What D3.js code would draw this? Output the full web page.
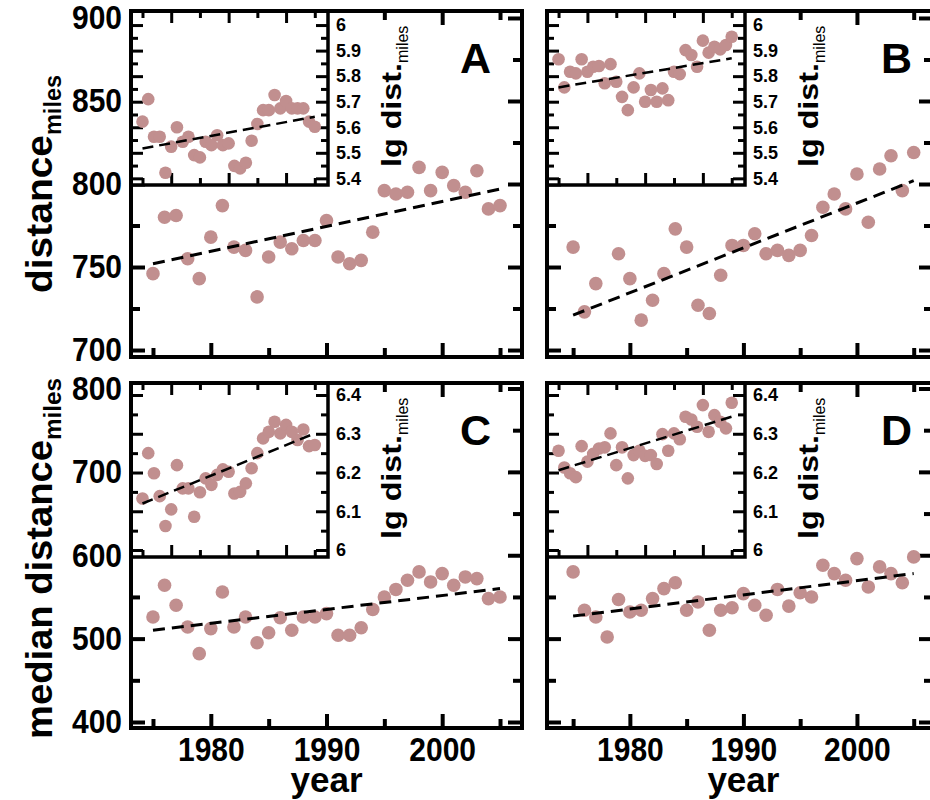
<!DOCTYPE html>
<html><head><meta charset="utf-8">
<script src="https://cdn.jsdelivr.net/npm/d3@7"></script>
<style>
body{margin:0;background:#fff}
svg{display:block}
text{font-family:"Liberation Sans",Arial,Helvetica,sans-serif;font-weight:bold;fill:#000}
</style>
</head><body>
<svg id="chart" width="930" height="800"></svg>
<script>
// ---------------- DATA ----------------
const years = [1975,1976,1977,1978,1979,1980,1981,1982,1983,1984,1985,1986,1987,1988,1989,1990,
               1991,1992,1993,1994,1995,1996,1997,1998,1999,2000,2001,2002,2003,2004,2005];

// main panels: distance (miles)
const distA = [746,780,781,755,743,768,787,762,760,732,756,765,761,766,766,778,
               756,752,754,771,796,794,795,810,796,807,799,795,808,785,787];
const distB = [762,723,740,null,758,743,718,730,746,773,762,727,722,745,763,763,
               770,758,760,757,760,769,786,794,785,806,777,809,817,796,819];
const distC = [526,564,540,514,482,512,556,514,526,495,507,525,510,526,526,530,
               504,504,513,535,550,559,570,580,568,578,564,574,572,548,550];
const distD = [580,534,526,502,547,532,534,548,560,567,534,544,510,534,537,554,
               540,528,559,539,555,550,588,578,570,596,562,586,578,567,598];

// insets: lg dist. (miles)
const lgA = [5.622,5.710,5.563,5.563,5.422,5.524,5.600,5.543,5.563,5.491,5.482,5.543,5.530,5.569,5.530,5.537,
             5.449,5.439,5.461,5.547,5.613,5.667,5.667,5.726,5.674,5.703,5.674,5.674,5.674,5.622,5.602];
const lgB = [5.866,5.756,5.817,5.811,5.866,5.817,5.837,5.840,5.772,5.847,5.778,5.719,5.667,5.756,5.811,5.700,
             5.746,5.700,5.752,5.706,5.817,5.808,5.902,5.883,5.837,5.939,5.892,5.915,5.905,5.922,5.954];
const lgC = [6.133,6.250,6.198,6.139,6.062,6.105,6.219,6.159,6.159,6.086,6.149,6.185,6.168,6.194,6.208,6.202,
             6.146,6.150,6.172,6.211,6.250,6.288,6.305,6.331,6.301,6.323,6.305,6.284,6.311,6.268,6.271];
const lgD = [6.256,6.213,6.198,6.188,6.268,6.228,6.248,6.262,6.265,6.301,6.219,6.265,6.185,6.245,6.256,6.243,
             6.245,6.222,6.299,6.256,6.301,6.286,6.344,6.337,6.318,6.374,6.305,6.348,6.331,6.314,6.380];

// dashed linear fits, endpoints: [year, value]
const fitA = [[1975,752],[2005,797]];
const fitB = [[1975,721],[2005,802]];
const fitC = [[1975,510],[2005,560]];
const fitD = [[1975,527],[2005,578]];
const insetFitA = [[1975,5.517],[2005,5.641]];
const insetFitB = [[1975,5.756],[2005,5.870]];
const insetFitC = [[1975,6.120],[2005,6.301]];
const insetFitD = [[1975,6.206],[2005,6.344]];

// ticks
const xMajor = [1980,1990,2000];
const xMinor = [1975,1985,1995,2005];
const yMajorTop = [700,750,800,850,900];
const yMinorTop = [725,775,825,875];
const yMajorBot = [400,500,600,700,800];
const yMinorBot = [450,550,650,750];
const lgMajorTop = [5.4,5.5,5.6,5.7,5.8,5.9,6];
const lgMinorTop = [5.45,5.55,5.65,5.75,5.85,5.95];
const lgMajorBot = [6,6.1,6.2,6.3,6.4];
const lgMinorBot = [6.05,6.15,6.25,6.35];

const letters = ["A","B","C","D"];
const yTitleTop = "distance", yTitleBot = "median distance", ySub = "miles";
const insetTitle = "lg dist.", xTitle = "year";

// ---------------- LAYOUT ----------------
const svg = d3.select("#chart");
const PT = "#c18f8f";

const panels = [
  {id:0, L:131, T:11,  R:522, B:357, xd:[1973.1,2006.9], yd:[695.8,904.2], data:distA, fit:fitA,
   yMaj:yMajorTop, yMin:yMinorTop, yLabels:true, xLabels:false,
   title:yTitleTop, tY:293, tLen:158, sLen:60,
   inset:{R:328, B:185, yd:[5.374,6.055], data:lgA, fit:insetFitA, maj:lgMajorTop, min:lgMinorTop}},
  {id:1, L:547, T:11,  R:933, B:357, xd:[1972.7,2006.7], yd:[695.8,904.2], data:distB, fit:fitB,
   yMaj:yMajorTop, yMin:yMinorTop, yLabels:false, xLabels:false,
   inset:{R:745, B:185, yd:[5.374,6.055], data:lgB, fit:insetFitB, maj:lgMajorTop, min:lgMinorTop}},
  {id:2, L:131, T:383, R:522, B:728, xd:[1973.1,2006.9], yd:[392.8,806.6], data:distC, fit:fitC,
   yMaj:yMajorBot, yMin:yMinorBot, yLabels:true, xLabels:true,
   title:yTitleBot, tY:739, tLen:299, sLen:62,
   inset:{R:328, B:557, yd:[5.982,6.431], data:lgC, fit:insetFitC, maj:lgMajorBot, min:lgMinorBot}},
  {id:3, L:547, T:383, R:933, B:728, xd:[1972.7,2006.7], yd:[392.8,806.6], data:distD, fit:fitD,
   yMaj:yMajorBot, yMin:yMinorBot, yLabels:false, xLabels:true,
   inset:{R:745, B:557, yd:[5.982,6.431], data:lgD, fit:insetFitD, maj:lgMajorBot, min:lgMinorBot}}
];

function styleAxis(g, w){
  g.select(".domain").remove();
  g.selectAll("line").attr("stroke","#000").attr("stroke-width",w);
  g.selectAll("text").attr("fill","#000");
}

const fmtLg = d => String(+d.toFixed(2));

panels.forEach(p => {
  const g = svg.append("g");
  const x = d3.scaleLinear().domain(p.xd).range([p.L, p.R]);
  const y = d3.scaleLinear().domain(p.yd).range([p.B, p.T]);

  // main ticks (inward), all four sides
  const sides = [
    {ax:d3.axisLeft,   tr:`translate(${p.L},0)`, sc:y, lab:p.yLabels},
    {ax:d3.axisRight,  tr:`translate(${p.R},0)`, sc:y, lab:false},
    {ax:d3.axisBottom, tr:`translate(0,${p.B})`, sc:x, lab:p.xLabels},
    {ax:d3.axisTop,    tr:`translate(0,${p.T})`, sc:x, lab:false}
  ];
  sides.forEach(s => {
    const isY = s.sc === y;
    const maj = isY ? p.yMaj : xMajor, mn = isY ? p.yMin : xMinor;
    g.append("g").attr("transform", s.tr)
      .call(s.ax(s.sc).tickValues(mn).tickSizeInner(-9).tickSizeOuter(0).tickFormat(""))
      .call(a => styleAxis(a, 4));
    const ga = g.append("g").attr("transform", s.tr)
      .call(s.ax(s.sc).tickValues(maj).tickSizeInner(-14).tickSizeOuter(0)
        .tickPadding(isY ? 9 : 8).tickFormat(s.lab ? d3.format("d") : ""))
      .call(a => styleAxis(a, 4));
    ga.selectAll("text").style("font-size", "30px").style("font-family", '"Liberation Sans",Arial,sans-serif')
      .style("font-weight","bold").attr("transform", isY ? "scale(1,1.12)" : "scale(1,1.13)");
  });

  // main points
  const pts = years.map((yr,i) => ({yr, v:p.data[i]})).filter(d => d.v != null);
  g.append("g").selectAll("circle").data(pts).join("circle")
    .attr("cx", d => x(d.yr)).attr("cy", d => y(d.v)).attr("r", 6.8).attr("fill", PT);
  // fit line
  g.append("path").datum(p.fit)
    .attr("d", d3.line().x(d => x(d[0])).y(d => y(d[1])))
    .attr("fill","none").attr("stroke","#000").attr("stroke-width",3).attr("stroke-dasharray","12,7");

  // ---- inset ----
  const ins = p.inset;
  const ix = d3.scaleLinear().domain([1973, 2007.3]).range([p.L, ins.R]);
  const iy = d3.scaleLinear().domain(ins.yd).range([ins.B, p.T]);
  const gi = g.append("g");
  gi.append("rect").attr("x", p.L).attr("y", p.T).attr("width", ins.R - p.L).attr("height", ins.B - p.T).attr("fill","#fff");
  const isides = [
    {ax:d3.axisLeft,   tr:`translate(${p.L},0)`,  sc:iy, lab:false},
    {ax:d3.axisRight,  tr:`translate(${ins.R},0)`, sc:iy, lab:true},
    {ax:d3.axisBottom, tr:`translate(0,${ins.B})`, sc:ix, lab:false},
    {ax:d3.axisTop,    tr:`translate(0,${p.T})`,  sc:ix, lab:false}
  ];
  isides.forEach(s => {
    const isY = s.sc === iy;
    const maj = isY ? ins.maj : xMajor, mn = isY ? ins.min : xMinor;
    gi.append("g").attr("transform", s.tr)
      .call(s.ax(s.sc).tickValues(mn).tickSizeInner(-7).tickSizeOuter(0).tickFormat(""))
      .call(a => styleAxis(a, 3));
    const ga = gi.append("g").attr("transform", s.tr)
      .call(s.ax(s.sc).tickValues(maj).tickSizeInner(-12).tickSizeOuter(0).tickPadding(8)
        .tickFormat(s.lab ? fmtLg : ""))
      .call(a => styleAxis(a, 3));
    ga.selectAll("text").style("font-size","18px").style("font-family",'"Liberation Sans",Arial,sans-serif').style("font-weight","bold");
  });
  const ipts = years.map((yr,i) => ({yr, v:ins.data[i]})).filter(d => d.v != null);
  gi.append("g").selectAll("circle").data(ipts).join("circle")
    .attr("cx", d => ix(d.yr)).attr("cy", d => iy(d.v)).attr("r", 6.3).attr("fill", PT);
  gi.append("path").datum(ins.fit)
    .attr("d", d3.line().x(d => ix(d[0])).y(d => iy(d[1])))
    .attr("fill","none").attr("stroke","#000").attr("stroke-width",2.5).attr("stroke-dasharray","11,6");
  // inset borders (right, bottom)
  gi.append("path").attr("d", `M${ins.R},${p.T}V${ins.B}H${p.L}`)
    .attr("fill","none").attr("stroke","#000").attr("stroke-width",3.5);
  // inset y title
  const it = gi.append("text").attr("transform", `translate(${ins.R + 73},${ins.B - 18}) rotate(-90)`)
    .style("font-size","27px");
  it.append("tspan").text(insetTitle).attr("textLength", 104).attr("lengthAdjust","spacingAndGlyphs");
  it.append("tspan").text(ySub).attr("dy", 7).style("font-size","16px").style("font-weight","normal");

  // main frame
  g.append("rect").attr("x", p.L).attr("y", p.T).attr("width", p.R - p.L).attr("height", p.B - p.T)
    .attr("fill","none").attr("stroke","#000").attr("stroke-width",4);

  // panel letter
  g.append("text").attr("x", p.L + (p.id % 2 ? 334 : 329)).attr("y", p.T + 62)
    .style("font-size","43px").text(letters[p.id]);

  // x title
  if (p.xLabels) {
    g.append("text").attr("x", x(1990)).attr("y", 792).attr("text-anchor","middle")
      .style("font-size","35px").text(xTitle);
  }
  // y title
  if (p.yLabels) {
    const t = g.append("text").attr("transform", `translate(52,${p.tY}) rotate(-90)`)
      .style("font-size","37px");
    t.append("tspan").text(p.title).attr("textLength", p.tLen).attr("lengthAdjust","spacingAndGlyphs");
    t.append("tspan").text(ySub).attr("dy", 9).style("font-size","23px")
      .attr("textLength", p.sLen).attr("lengthAdjust","spacingAndGlyphs");
  }
});
</script>
</body></html>
